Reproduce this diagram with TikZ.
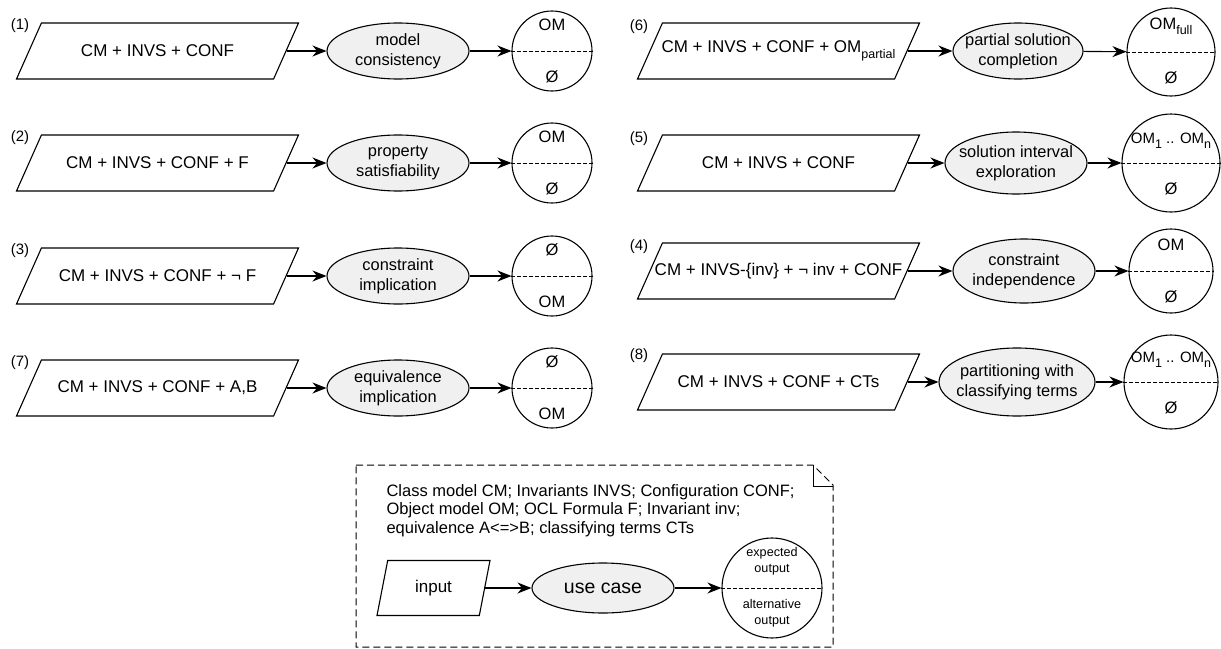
\documentclass[tikz,border=0pt]{standalone}
\usepackage{fontspec}
\setmainfont{Liberation Sans}
\usetikzlibrary{shapes.geometric,arrows.meta}
\newcommand{\omsub}[1]{\raisebox{-0.6ex}{\fontsize{12.5}{12.5}\selectfont #1}}

\begin{document}
\begin{tikzpicture}[
    x=1pt, y=-1pt, line width=1.1pt,
    inbox/.style={draw, trapezium, trapezium left angle=66, trapezium right angle=114,
        trapezium stretches body, inner xsep=0pt, inner ysep=28pt, minimum width=282pt},
    intext/.style={font=\fontsize{17}{20}\selectfont, inner sep=0pt},
    usecase/.style={draw, ellipse, fill=gray!12, minimum width=142pt, minimum height=56pt},
    casetext/.style={align=center, font=\fontsize{16.4}{19.7}\selectfont, inner sep=0pt},
    result/.style={draw, circle, minimum size=80pt},
    restext/.style={align=center, font=\fontsize{16.5}{19}\selectfont, inner sep=0pt},
    manytext/.style={font=\fontsize{15}{17}\selectfont, inner sep=0pt},
    num/.style={font=\fontsize{15}{16}\selectfont, inner sep=0pt},
    keytext/.style={align=left, font=\fontsize{16.5}{18.3}\selectfont, inner sep=0pt},
    flow/.style={-{Stealth[length=14pt,width=11pt]}},
    split/.style={line width=0.9pt, dash pattern=on 4pt off 2pt},
    note/.style={line width=1pt, dash pattern=on 7pt off 4pt}
]
\useasboundingbox (0,0) rectangle (1221,648);

\node[num] (n1) at (20,26) {(1)};
\node[inbox] (in1) at (157.5,51) {};
\node[intext] (in1t) at (in1) {CM + INVS + CONF};
\node[usecase] (uc1) at (398,51) {};
\node[casetext] (uc1t) at (uc1) {model\\consistency};
\node[result] (out1) at (552,51) {};
\draw[split] (out1.west) -- (out1.east);
\node[restext] (out1a) at ([yshift=26pt]out1.center) {OM};
\node[restext] (out1b) at ([yshift=-26pt]out1.center) {Ø};
\draw[flow] (in1) -- (uc1);
\draw[flow] (uc1) -- (out1);

\node[num] (n2) at (20,138) {(2)};
\node[inbox] (in2) at (157.5,163) {};
\node[intext] (in2t) at (in2) {CM + INVS + CONF + F};
\node[usecase] (uc2) at (398,163) {};
\node[casetext] (uc2t) at (uc2) {property\\satisfiability};
\node[result] (out2) at (552,163) {};
\draw[split] (out2.west) -- (out2.east);
\node[restext] (out2a) at ([yshift=26pt]out2.center) {OM};
\node[restext] (out2b) at ([yshift=-26pt]out2.center) {Ø};
\draw[flow] (in2) -- (uc2);
\draw[flow] (uc2) -- (out2);

\node[num] (n3) at (20,251) {(3)};
\node[inbox] (in3) at (157.5,276) {};
\node[intext] (in3t) at (in3) {CM + INVS + CONF + ¬ F};
\node[usecase] (uc3) at (398,276) {};
\node[casetext] (uc3t) at (uc3) {constraint\\implication};
\node[result] (out3) at (552,276) {};
\draw[split] (out3.west) -- (out3.east);
\node[restext] (out3a) at ([yshift=26pt]out3.center) {Ø};
\node[restext] (out3b) at ([yshift=-26pt]out3.center) {OM};
\draw[flow] (in3) -- (uc3);
\draw[flow] (uc3) -- (out3);

\node[num] (n7) at (20,363) {(7)};
\node[inbox] (in7) at (157.5,388) {};
\node[intext] (in7t) at (in7) {CM + INVS + CONF + A,B};
\node[usecase] (uc7) at (398,388) {};
\node[casetext] (uc7t) at (uc7) {equivalence\\implication};
\node[result] (out7) at (552,388) {};
\draw[split] (out7.west) -- (out7.east);
\node[restext] (out7a) at ([yshift=26pt]out7.center) {Ø};
\node[restext] (out7b) at ([yshift=-26pt]out7.center) {OM};
\draw[flow] (in7) -- (uc7);
\draw[flow] (uc7) -- (out7);

\node[num] (n6) at (639,27) {(6)};
\node[inbox] (in6) at (778.5,51) {};
\node[intext] (in6t) at (in6) {CM + INVS + CONF + OM\omsub{partial}};
\node[usecase, minimum width=130pt] (uc6) at (1018,51) {};
\node[casetext] (uc6t) at (uc6) {partial solution\\completion};
\node[result, minimum size=88pt] (out6) at (1171,52) {};
\draw[split] (out6.west) -- (out6.east);
\node[restext] (out6a) at ([yshift=26pt]out6.center) {OM\omsub{full}};
\node[restext] (out6b) at ([yshift=-26pt]out6.center) {Ø};
\draw[flow] (in6) -- (uc6);
\draw[flow] (uc6) -- (out6);

\node[num] (n5) at (639,139) {(5)};
\node[inbox] (in5) at (778.5,163) {};
\node[intext] (in5t) at (in5) {CM + INVS + CONF};
\node[usecase, minimum height=62pt] (uc5) at (1016,163) {};
\node[casetext] (uc5t) at (uc5) {solution interval\\exploration};
\node[result, minimum size=98pt] (out5) at (1171,163) {};
\draw[split] (out5.west) -- (out5.east);
\node[manytext] (out5a) at ([yshift=22pt]out5.center) {OM\omsub{1} .. OM\omsub{n}};
\node[restext] (out5b) at ([yshift=-26pt]out5.center) {Ø};
\draw[flow] (in5) -- (uc5);
\draw[flow] (uc5) -- (out5);

\node[num] (n4) at (639,247) {(4)};
\node[inbox] (in4) at (778.5,271) {};
\node[intext] (in4t) at (in4) {CM + INVS-\{inv\} + ¬ inv + CONF};
\node[usecase, minimum height=64pt] (uc4) at (1024,271) {};
\node[casetext] (uc4t) at (uc4) {constraint\\independence};
\node[result, minimum size=84pt] (out4) at (1171,271) {};
\draw[split] (out4.west) -- (out4.east);
\node[restext] (out4a) at ([yshift=26pt]out4.center) {OM};
\node[restext] (out4b) at ([yshift=-26pt]out4.center) {Ø};
\draw[flow] (in4) -- (uc4);
\draw[flow] (uc4) -- (out4);

\node[num] (n8) at (639,356) {(8)};
\node[inbox] (in8) at (778.5,382) {};
\node[intext] (in8t) at (in8) {CM + INVS + CONF + CTs};
\node[usecase, minimum width=156pt, minimum height=68pt] (uc8) at (1017,382) {};
\node[casetext] (uc8t) at (uc8) {partitioning with\\classifying terms};
\node[result, minimum size=94pt] (out8) at (1171,382) {};
\draw[split] (out8.west) -- (out8.east);
\node[manytext] (out8a) at ([yshift=22pt]out8.center) {OM\omsub{1} .. OM\omsub{n}};
\node[restext] (out8b) at ([yshift=-26pt]out8.center) {Ø};
\draw[flow] (in8) -- (uc8);
\draw[flow] (uc8) -- (out8);

\draw[note] (356,465) -- (813,465) -- (833,485) -- (833,647) -- (356,647) -- cycle;
\draw[line width=1pt] (813,465) -- (813,486) -- (833,486);
\node[keytext, anchor=north west] (key) at (386,484) {Class model CM; Invariants INVS; Configuration CONF;\\Object model OM; OCL Formula F; Invariant inv;\\equivalence A<=>B; classifying terms CTs};
\node[inbox, trapezium left angle=79, trapezium right angle=101, inner ysep=27.5pt, minimum width=113pt] (kin) at (433.5,588) {};
\node[intext] (kint) at (kin) {input};
\node[usecase, minimum height=50pt] (kuc) at (603,588) {};
\node[casetext, font=\fontsize{19.5}{22}\selectfont] (kuct) at (kuc) {use case};
\node[result, minimum size=100pt] (kout) at (772,588) {};
\draw[split] (kout.west) -- (kout.east);
\node[restext, font=\fontsize{12.6}{15.5}\selectfont] (kouta) at ([yshift=27pt]kout.center) {expected\\output};
\node[restext, font=\fontsize{12.6}{15.5}\selectfont] (koutb) at ([yshift=-25pt]kout.center) {alternative\\output};
\draw[flow] (kin) -- (kuc);
\draw[flow] (kuc) -- (kout);
\end{tikzpicture}
\end{document}
